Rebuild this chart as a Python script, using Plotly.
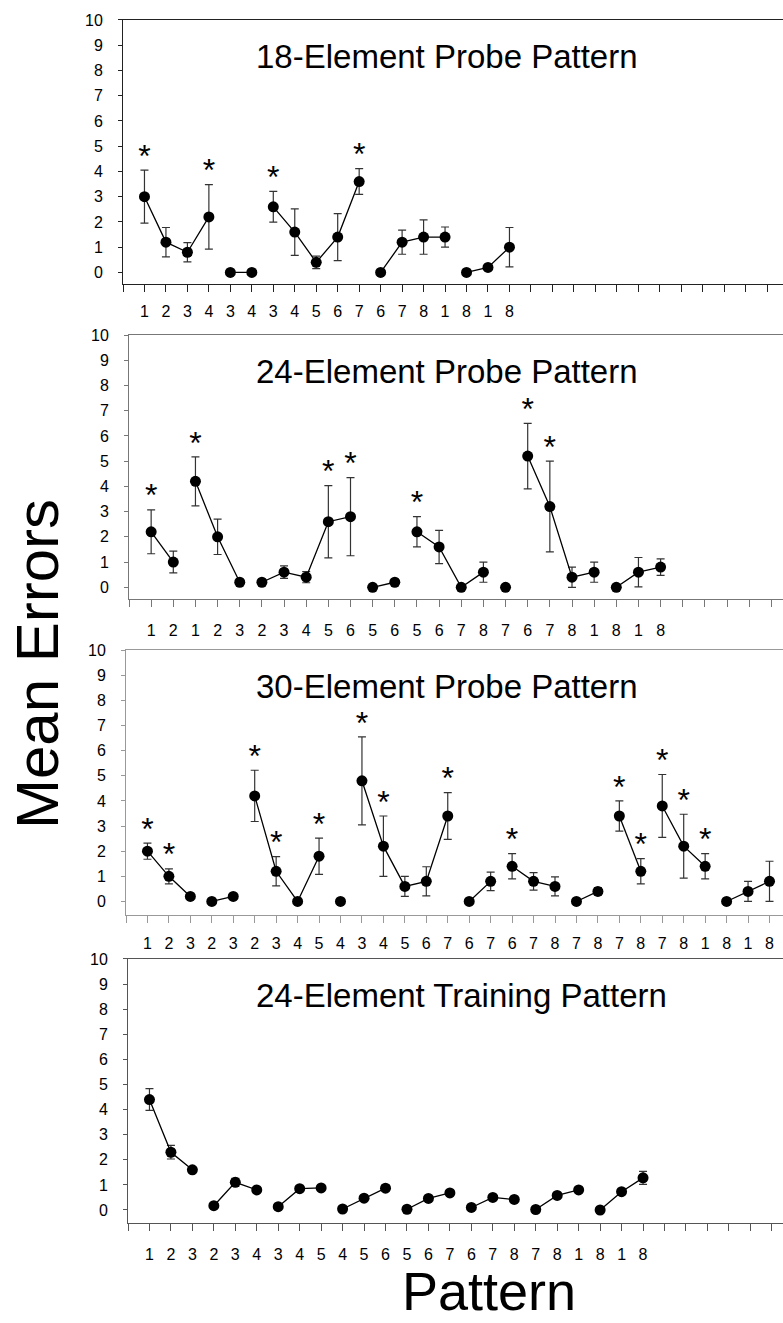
import plotly.graph_objects as go

W, H = 783, 1323
FONT = "Liberation Sans, Arial, sans-serif"

titles = ["18-Element Probe Pattern", "24-Element Probe Pattern",
          "30-Element Probe Pattern", "24-Element Training Pattern"]

p1_labels = "1 2 3 4 3 4 3 4 5 6 7 6 7 8 1 8 1 8".split()
p1_means = [3.0, 1.2, 0.8, 2.2, 0.0, 0.0, 2.6, 1.6, 0.4, 1.4, 3.6, 0.0, 1.2, 1.4, 1.4, 0.0, 0.2, 1.0]
p1_err = [1.05, 0.58, 0.38, 1.28, 0, 0, 0.61, 0.92, 0.25, 0.93, 0.51, 0, 0.48, 0.68, 0.4, 0, 0, 0.78]
p1_group = [1, 1, 1, 1, 2, 2, 3, 3, 3, 3, 3, 4, 4, 4, 4, 5, 5, 5]
p1_star = [1, 4, 7, 11]

p2_labels = "1 2 1 2 3 2 3 4 5 6 5 6 5 6 7 8 7 6 7 8 1 8 1 8".split()
p2_means = [2.2, 1.0, 4.2, 2.0, 0.2, 0.2, 0.6, 0.4, 2.6, 2.8, 0.0, 0.2, 2.2, 1.6, 0.0, 0.6,
            0.0, 5.2, 3.2, 0.4, 0.6, 0.0, 0.6, 0.8]
p2_err = [0.87, 0.43, 0.97, 0.7, 0, 0, 0.25, 0.22, 1.43, 1.55, 0, 0, 0.6, 0.66, 0, 0.4,
          0, 1.3, 1.8, 0.4, 0.4, 0, 0.58, 0.33]
p2_group = [1, 1, 2, 2, 2, 3, 3, 3, 3, 3, 4, 4, 5, 5, 5, 5, 6, 7, 7, 7, 7, 8, 8, 8]
p2_star = [1, 3, 9, 10, 13, 18, 19]

p3_labels = "1 2 3 2 3 2 3 4 5 4 3 4 5 6 7 6 7 6 7 8 7 8 7 8 7 8 1 8 1 8".split()
p3_means = [2.0, 1.0, 0.2, 0.0, 0.2, 4.2, 1.2, 0.0, 1.8, 0.0, 4.8, 2.2, 0.6, 0.8, 3.4,
            0.0, 0.8, 1.4, 0.8, 0.6, 0.0, 0.4, 3.4, 1.2, 3.8, 2.2, 1.4, 0.0, 0.4, 0.8]
p3_err = [0.32, 0.3, 0, 0, 0, 1.02, 0.58, 0, 0.72, 0, 1.75, 1.2, 0.4, 0.58, 0.93,
          0, 0.37, 0.5, 0.35, 0.38, 0, 0.15, 0.6, 0.5, 1.25, 1.27, 0.5, 0, 0.4, 0.8]
p3_group = [1, 1, 1, 2, 2, 3, 3, 3, 3, 4, 5, 5, 5, 5, 5, 6, 6, 7, 7, 7, 8, 8, 9, 9,
            10, 10, 10, 11, 11, 11]
p3_star = [1, 2, 6, 7, 9, 11, 12, 15, 18, 23, 24, 25, 26, 27]

p4_labels = "1 2 3 2 3 4 3 4 5 4 5 6 5 6 7 6 7 8 7 8 1 8 1 8".split()
p4_means = [4.4, 2.3, 1.6, 0.17, 1.1, 0.8, 0.13, 0.85, 0.88, 0.04, 0.47, 0.87, 0.03, 0.46,
            0.68, 0.1, 0.5, 0.42, 0.02, 0.58, 0.8, 0.0, 0.73, 1.28]
p4_err = [0.43, 0.27, 0.1, 0.05, 0.16, 0.08, 0.05, 0.1, 0.1, 0.05, 0.08, 0.12, 0.05, 0.05,
          0.08, 0.05, 0.05, 0.05, 0.05, 0.05, 0.08, 0.05, 0.1, 0.26]
p4_group = [1, 1, 1, 2, 2, 2, 3, 3, 3, 4, 4, 4, 5, 5, 5, 6, 6, 6, 7, 7, 7, 8, 8, 8]
p4_star = []

panels = [
    (p1_labels, p1_means, p1_err, p1_group, p1_star),
    (p2_labels, p2_means, p2_err, p2_group, p2_star),
    (p3_labels, p3_means, p3_err, p3_group, p3_star),
    (p4_labels, p4_means, p4_err, p4_group, p4_star),
]

# layout geometry (pixels): y-axis x position, tick spacing, top line y, x-axis line y, y-min
geom = [
    dict(ax=123, sp=21.47, top=12, bot=278, ymin=-0.47, lc="#222222", stand=5),
    dict(ax=129, sp=22.15, top=329, bot=595, ymin=-0.48, lc="#777777", stand=9),
    dict(ax=126, sp=21.45, top=646, bot=912.3, ymin=-0.53, lc="#999999", stand=7),
    dict(ax=128, sp=21.46, top=956.7, bot=1222.7, ymin=-0.53, lc="#555555", stand=9),
]

STAR_OFFSET = 0.45


def with_gaps(vals, groups, gap):
    out = []
    prev = None
    for v, g in zip(vals, groups):
        if prev is not None and g != prev:
            out.append(gap)
        out.append(v)
        prev = g
    return out


fig = go.Figure()
layout = dict(width=W, height=H, margin=dict(l=0, r=0, t=0, b=0),
              paper_bgcolor="white", plot_bgcolor="white", showlegend=False,
              font=dict(family=FONT, color="black"))
annotations = []

for i, ((labels, means, err, group, stars), g) in enumerate(zip(panels, geom), start=1):
    n = len(means)
    xs = list(range(1, n + 1))
    xname = "x" if i == 1 else f"x{i}"
    yname = "y" if i == 1 else f"y{i}"
    fig.add_trace(go.Scatter(
        x=with_gaps(xs, group, None), y=with_gaps(means, group, None),
        mode="lines+markers", xaxis=xname, yaxis=yname,
        line=dict(color="black", width=1.3),
        marker=dict(color="black", size=11),
        error_y=dict(type="data", array=with_gaps(err, group, 0), visible=True,
                     color="#333333", thickness=1.2, width=4),
        connectgaps=False, hoverinfo="skip"))
    if stars:
        fig.add_trace(go.Scatter(
            x=stars, y=[means[s - 1] + err[s - 1] + STAR_OFFSET for s in stars],
            mode="text", text=["*"] * len(stars), textposition="middle center",
            textfont=dict(size=32, color="black", family=FONT),
            xaxis=xname, yaxis=yname, hoverinfo="skip"))

    x0 = g["ax"] / W
    xmax = (W - g["ax"]) / g["sp"]
    ticktext = [""] + labels + [""] * (32 - n)
    layout[f"xaxis{'' if i == 1 else i}"] = dict(
        domain=[x0, 1], range=[0, xmax], anchor=yname,
        tickmode="array", tickvals=list(range(0, 33)), ticktext=ticktext,
        ticks="outside", ticklen=7, tickwidth=1, tickcolor=g["lc"],
        showline=True, linecolor=g["lc"], linewidth=1, mirror=True,
        showgrid=False, zeroline=False, ticklabelstandoff=g["stand"],
        tickfont=dict(size=16, family=FONT, color="black"))
    layout[f"yaxis{'' if i == 1 else i}"] = dict(
        domain=[1 - g["bot"] / H, 1 - g["top"] / H], range=[g["ymin"], 10], anchor=xname,
        tickmode="array", tickvals=list(range(0, 11)),
        ticks="outside", ticklen=4, tickwidth=1, tickcolor=g["lc"],
        showline=True, linecolor=g["lc"], linewidth=1,
        showgrid=False, zeroline=False, ticklabelstandoff=12,
        tickfont=dict(size=16, family=FONT, color="black"))
    annotations.append(dict(
        text=titles[i - 1], xref="paper", yref="paper",
        x=254 / W, y=1 - (g["top"] + 37) / H, xanchor="left", yanchor="middle",
        showarrow=False, font=dict(size=33, family=FONT, color="black")))

annotations.append(dict(text="Mean Errors", xref="paper", yref="paper",
                        x=37 / W, y=1 - 660 / H, xanchor="center", yanchor="middle",
                        textangle=-90, showarrow=False,
                        font=dict(size=60, family=FONT, color="black")))
annotations.append(dict(text="Pattern", xref="paper", yref="paper",
                        x=489 / W, y=0, xanchor="center", yanchor="bottom",
                        showarrow=False, font=dict(size=54, family=FONT, color="black")))
layout["annotations"] = annotations
fig.update_layout(**layout)
fig.write_html("out.html", config={"displayModeBar": False},
               post_script="document.body.style.margin='0';document.body.style.overflow='hidden';")
